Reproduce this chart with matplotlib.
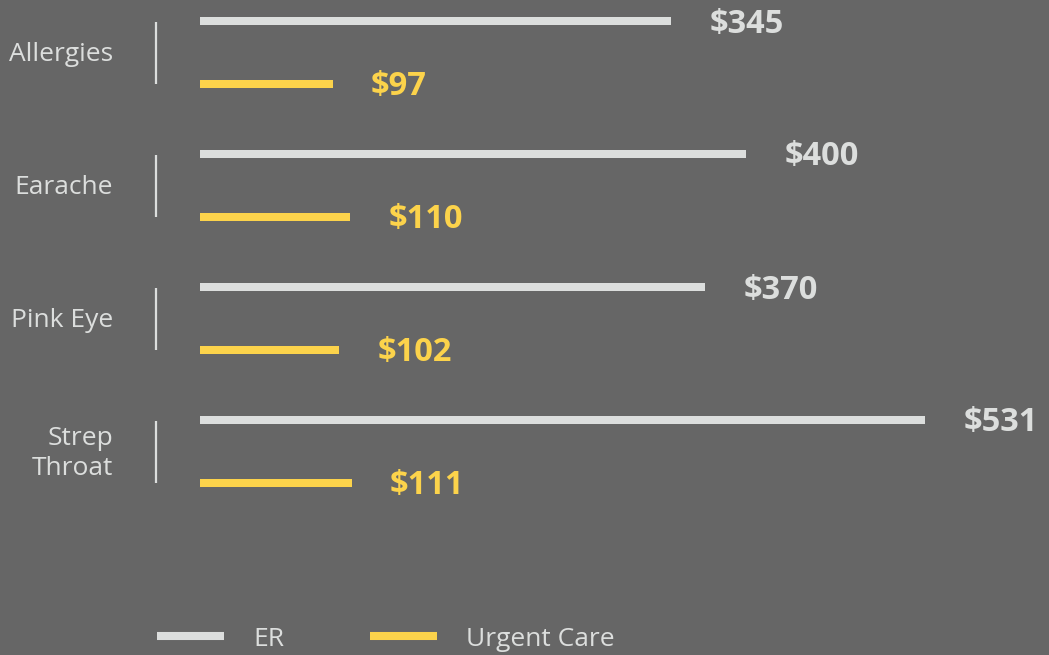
import numpy as np
import matplotlib
matplotlib.use("Agg")
from matplotlib import pyplot
from matplotlib.lines import Line2D

# データ
categories = ["Allergies", "Earache", "Pink Eye", "Strep\nThroat"]
er_cost = [345, 400, 370, 531]
urgent_cost = [97, 110, 102, 111]
series_names = ["ER", "Urgent Care"]

BG = "#666666"
ER_COLOR = "#dcdedd"
UC_COLOR = "#fcd34b"
FONT = ["Open Sans", "DejaVu Sans"]

W, H = 1049, 655
px_per_unit = 1.366  # 横軸のスケール (px / $)
left_px = 200

fig = pyplot.figure(figsize=(W / 100, H / 100), dpi=100, facecolor=BG)
ax = fig.add_axes([left_px / W, 0, 1 - left_px / W, 1])
ax.set_facecolor(BG)
ax.set_xlim(0, (W - left_px) / px_per_unit)
ax.set_ylim(H, 0)  # y はピクセル相当
ax.axis("off")

row_gap = 133
er_y = np.array([21 + i * row_gap for i in range(len(categories))])
uc_y = er_y + 62.5

ax.barh(er_y, er_cost, height=8, color=ER_COLOR, left=0)
ax.barh(uc_y, urgent_cost, height=8, color=UC_COLOR, left=0)

# 値ラベル
for y, v in zip(er_y, er_cost):
    ax.annotate("$" + str(v), (v, y), xytext=(38, -3), textcoords="offset pixels",
                ha="left", va="center", color=ER_COLOR, fontsize=23.5,
                fontweight="bold", family=FONT)
for y, v in zip(uc_y, urgent_cost):
    ax.annotate("$" + str(v), (v, y), xytext=(38, -3), textcoords="offset pixels",
                ha="left", va="center", color=UC_COLOR, fontsize=23.5,
                fontweight="bold", family=FONT)

# カテゴリラベルと区切り線
sep_x = -44 / px_per_unit
for i, cat in enumerate(categories):
    mid = (er_y[i] + uc_y[i]) / 2
    ax.annotate(cat, (0, mid), xytext=(-87, -2), textcoords="offset pixels",
                ha="right", va="center", color=ER_COLOR, fontsize=19,
                family=FONT, linespacing=1.25)
    ax.plot([sep_x, sep_x], [er_y[i] + 1, uc_y[i]], color=ER_COLOR, lw=1.6,
            clip_on=False, solid_capstyle="butt")

# 凡例
handles = [Line2D([], [], color=ER_COLOR, lw=5.8, solid_capstyle="butt"),
           Line2D([], [], color=UC_COLOR, lw=5.8, solid_capstyle="butt")]
leg = fig.legend(handles, series_names, loc="center left",
                 bbox_to_anchor=(157 / W, 1 - 639 / H), ncol=2, frameon=False,
                 borderpad=0, borderaxespad=0, handlelength=2.54,
                 handletextpad=1.1, columnspacing=3.26,
                 prop={"family": FONT, "size": 19})
for t in leg.get_texts():
    t.set_color(ER_COLOR)

fig.savefig("out.png", facecolor=BG)
